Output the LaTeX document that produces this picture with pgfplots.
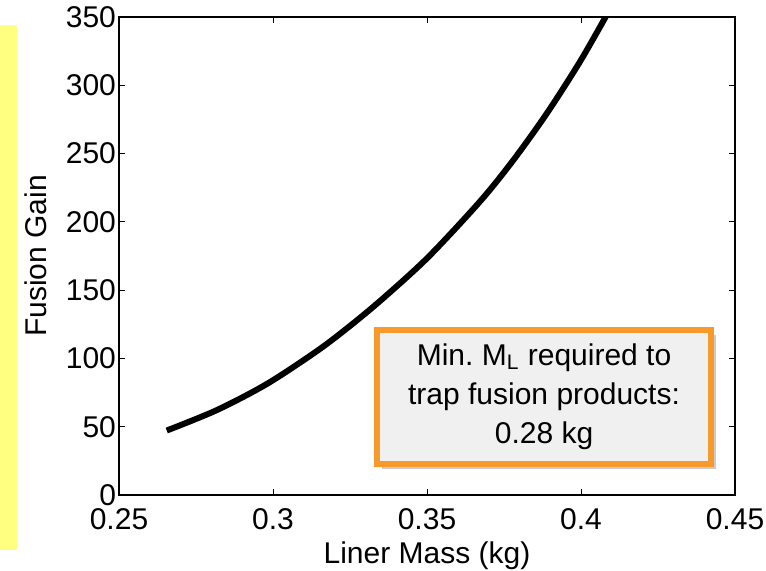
\documentclass[border=0pt]{standalone}
\usepackage{pgfplots}
\pgfplotsset{compat=1.18}
\usepackage{fontspec}
\setmainfont{Liberation Sans}
\usetikzlibrary{shadows}
\definecolor{boxorange}{HTML}{F7992B}
\definecolor{yel}{HTML}{FFFF80}
\definecolor{boxfill}{HTML}{F0F0F0}
\begin{document}
\begin{tikzpicture}
\useasboundingbox (-59.5pt,-38pt) rectangle (323.5pt,247.5pt);
\fill[yel] (-59.5pt,-27.5pt) rectangle (-51pt,235pt);
\begin{axis}[
  at={(0,0)}, anchor=south west,
  scale only axis, width=308pt, height=239pt,
  xmin=0.25, xmax=0.45, ymin=0, ymax=350,
  xtick={0.25,0.3,0.35,0.4,0.45},
  xticklabels={0.25,0.3,0.35,0.4,0.45},
  ytick={0,50,100,150,200,250,300,350},
  tick align=inside,
  major tick length=3pt,
  axis line style={line width=0.6pt},
  every tick/.style={black, line width=0.5pt},
  font=\fontsize{15}{18}\selectfont,
  /pgf/number format/assume math mode=true,
  xticklabel style={yshift=-3pt},
  yticklabel style={xshift=2pt},
  xlabel={Liner Mass (kg)},
  ylabel={Fusion Gain},
  xlabel style={at={(axis description cs:0.5,-0.1423)}, anchor=base},
  ylabel style={at={(axis description cs:-0.1169,0.5)}, anchor=base},
]
\addplot[black, line width=3pt, smooth, tension=0.5] table {
x y
0.2655 47.2
0.2817 62.1
0.2980 81.3
0.3142 105.3
0.3250 123.8
0.3358 144.1
0.3504 174.2
0.3672 214.9
0.3780 245.1
0.3889 279.4
0.3997 317.4
0.4087 352.9
};
\node[draw=boxorange, line width=3pt, fill=boxfill,
  drop shadow={shadow xshift=2.5pt, shadow yshift=-2.5pt, fill=black, opacity=0.2},
  align=center, minimum width=167pt, minimum height=67pt, inner sep=2pt,
  font=\fontsize{15}{19.5}\selectfont]
  at (axis cs:0.388,72) {Min.\ M\textsubscript{L} required to\\trap fusion products:\\0.28 kg};
\end{axis}
\end{tikzpicture}
\end{document}
